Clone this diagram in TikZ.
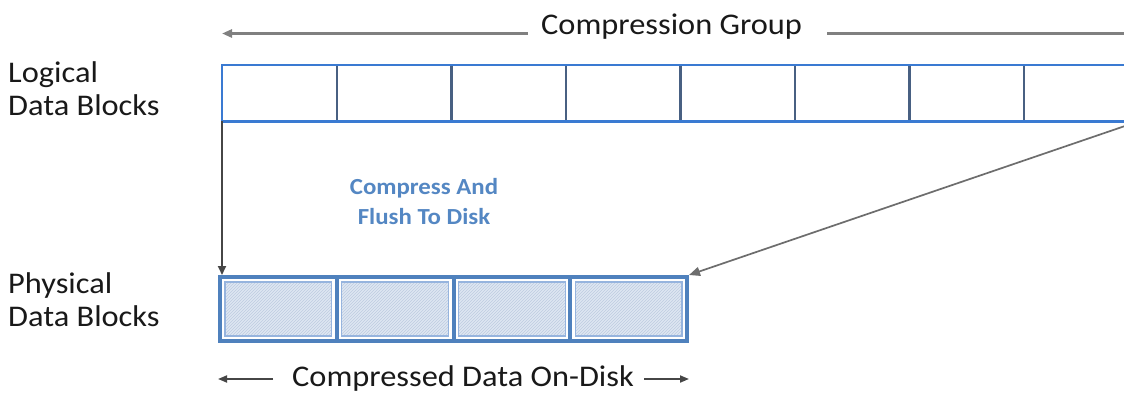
\documentclass[tikz,border=0pt]{standalone}
\usepackage{fontspec}
\setmainfont{Carlito}[FakeStretch=1.08]
\usetikzlibrary{arrows.meta,patterns}

\definecolor{blockline}{RGB}{58,122,210}
\definecolor{dividerline}{RGB}{72,96,130}
\definecolor{steel}{RGB}{79,129,189}
\definecolor{cellfill}{RGB}{222,231,242}
\definecolor{hatch}{RGB}{190,204,224}
\definecolor{cellline}{RGB}{150,180,222}
\definecolor{arrowgray}{RGB}{128,128,128}
\definecolor{arrowdark}{RGB}{70,70,70}
\definecolor{notetext}{RGB}{84,135,195}

\tikzset{
  label/.style={inner sep=0pt, font=\fontsize{30}{33}\selectfont, text=black!90},
  sidelabel/.style={label, align=left, anchor=west},
  note/.style={inner sep=0pt, align=center, font=\fontsize{23}{30}\selectfont\bfseries, text=notetext},
  lblock/.style={anchor=north west, inner sep=0pt, minimum width=114.5pt, minimum height=56pt},
  pblock/.style={anchor=north west, inner sep=0pt, minimum width=116.75pt, minimum height=64pt,
    draw=steel, line width=4pt,
    path picture={
      \path[fill=cellfill]
        ([xshift=5pt,yshift=-5pt]path picture bounding box.north west) rectangle
        ([xshift=-5pt,yshift=5pt]path picture bounding box.south east);
      \path[pattern=north east lines, pattern color=hatch]
        ([xshift=5pt,yshift=-5pt]path picture bounding box.north west) rectangle
        ([xshift=-5pt,yshift=5pt]path picture bounding box.south east);
      \draw[cellline, line width=1.3pt]
        ([xshift=5pt,yshift=-5pt]path picture bounding box.north west) rectangle
        ([xshift=-5pt,yshift=5pt]path picture bounding box.south east);
    }},
  blockframe/.style={draw=blockline, line width=2.8pt},
  divline/.style={draw=dividerline, line width=2.2pt},
  grayarrow/.style={draw=arrowgray, line width=2.6pt, -{Triangle[length=10pt,width=8pt]}},
  darkarrow/.style={draw=arrowdark, line width=1.8pt, -{Triangle[length=9pt,width=8pt]}},
  slantarrow/.style={draw=arrowgray!85!black, line width=1.7pt, -{Triangle[length=11pt,width=9pt]}},
  spanarrow/.style={draw=arrowdark, line width=1.8pt, -{Triangle[length=9pt,width=7pt]}},
}

\begin{document}
\begin{tikzpicture}[x=1pt, y=-1pt]
  \useasboundingbox (0,0) rectangle (1124,394);
  \fill[white] (0,0) rectangle (1124,394);

  % side labels
  \node[sidelabel] (logl) at (8,89) {Logical\\Data Blocks};
  \node[sidelabel] (phyl) at (8,300) {Physical\\Data Blocks};

  % logical data blocks
  \foreach \i in {1,...,8}
    \node[lblock] (lb\i) at ({222+(\i-1)*114.5},65) {};
  \foreach \i in {1,...,7}
    \draw[divline] (lb\i.north east) -- (lb\i.south east);
  \draw[blockframe] (lb8.north east) -- (lb1.north west) -- (lb1.south west) -- (lb8.south east);

  % physical data blocks
  \foreach \i in {1,...,4}
    \node[pblock] (pb\i) at ({218+(\i-1)*116.75},275) {};

  % compression group span
  \node[label, anchor=base west] (cg) at (541,34.5) {Compression Group};
  \draw[grayarrow] ([xshift=-13pt,yshift=1pt]cg.base west) coordinate (t1) -- (t1 -| lb1.west);
  \draw[grayarrow] ([xshift=25pt,yshift=1pt]cg.base east) coordinate (t2) -- (t2 -| lb8.east);

  % compress and flush
  \node[note] (cf) at (424,202) {Compress And\\Flush To Disk};
  \draw[darkarrow] (lb1.south west) -- (lb1.south west |- pb1.north);
  \draw[slantarrow] (lb8.south east) -- (pb4.north east);

  % compressed span
  \node[label, anchor=base west] (cd) at (292,386) {Compressed Data On-Disk};
  \draw[spanarrow] ([xshift=-19pt,yshift=7pt]cd.base west) coordinate (b1) -- (b1 -| pb1.west);
  \draw[spanarrow] ([xshift=10pt,yshift=7pt]cd.base east) coordinate (b2) -- (b2 -| pb4.east);
\end{tikzpicture}
\end{document}
